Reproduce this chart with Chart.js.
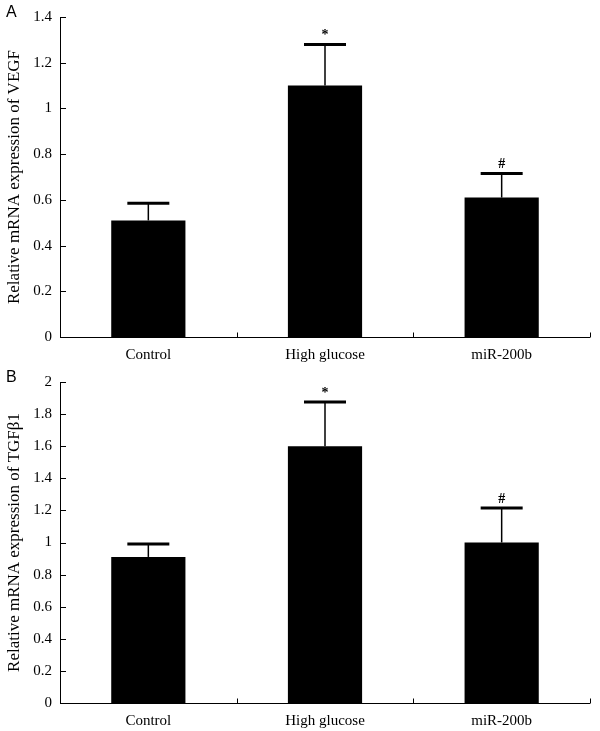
<!DOCTYPE html>
<html lang="en">
<head>
    <meta charset="UTF-8">
    <title>Relative mRNA expression</title>
    <script src="https://cdn.jsdelivr.net/npm/chart.js"></script>
    <style>
        body {
            margin: 0;
            background: #fff;
        }
        canvas {
            display: block;
        }
    </style>
</head>
<body>
    <canvas id="chartA" width="600" height="365"></canvas>
    <canvas id="chartB" width="600" height="366"></canvas>

    <script>
        // Datos
        const groups = ['Control', 'High glucose', 'miR-200b'];

        const vegfMean = [0.51, 1.10, 0.61];
        const vegfErr = [0.075, 0.18, 0.105];   // solo barra superior
        const vegfMarks = ['', '*', '#'];

        const tgfMean = [0.91, 1.60, 1.00];
        const tgfErr = [0.08, 0.275, 0.215];
        const tgfMarks = ['', '*', '#'];

        const serif = "'Liberation Serif', 'DejaVu Serif', serif";

        // Ejes, marcas, barras de error y etiquetas dibujadas a mano
        const extras = {
            id: 'extras',
            afterDatasetsDraw(chart, args, opts) {
                const ctx = chart.ctx;
                const x = chart.scales.x;
                const y = chart.scales.y;
                const area = chart.chartArea;
                ctx.save();
                ctx.strokeStyle = '#000';
                ctx.fillStyle = '#000';

                // eje y con marcas hacia dentro
                ctx.lineWidth = 1;
                ctx.beginPath();
                ctx.moveTo(area.left + 0.5, y.getPixelForValue(y.max));
                ctx.lineTo(area.left + 0.5, area.bottom);
                y.ticks.forEach(t => {
                    const py = Math.round(y.getPixelForValue(t.value)) + 0.5;
                    ctx.moveTo(area.left, py);
                    ctx.lineTo(area.left + 6, py);
                });
                // eje x con marcas entre categorías
                const by = Math.round(area.bottom) + 0.5;
                ctx.moveTo(area.left, by);
                ctx.lineTo(area.right, by);
                const step = x.getPixelForValue(1) - x.getPixelForValue(0);
                const n = chart.data.labels.length;
                for (let i = 0; i < n; i++) {
                    const px = Math.round(x.getPixelForValue(i) + step / 2) + 0.5;
                    ctx.moveTo(px, by);
                    ctx.lineTo(px, by - 5);
                }
                ctx.stroke();

                // barras de error
                const meta = chart.getDatasetMeta(0);
                opts.err.forEach((e, i) => {
                    const bar = meta.data[i];
                    const top = opts.mean[i] + e;
                    const ty = y.getPixelForValue(top);
                    ctx.lineWidth = 1.5;
                    ctx.beginPath();
                    ctx.moveTo(bar.x, bar.y);
                    ctx.lineTo(bar.x, ty);
                    ctx.stroke();
                    ctx.lineWidth = 3;
                    ctx.beginPath();
                    ctx.moveTo(bar.x - 21, ty);
                    ctx.lineTo(bar.x + 21, ty);
                    ctx.stroke();
                    if (opts.marks[i]) {
                        ctx.font = 'bold 14px ' + serif;
                        ctx.textAlign = 'center';
                        ctx.textBaseline = 'bottom';
                        ctx.fillText(opts.marks[i], bar.x, ty - 2);
                    }
                });

                // letra del panel
                ctx.font = "16px 'Liberation Sans', Arial, sans-serif";
                ctx.textAlign = 'left';
                ctx.textBaseline = 'middle';
                ctx.fillText(opts.letter, 6, 13);
                ctx.restore();
            }
        };

        function makeChart(id, mean, err, marks, max, title, letter) {
            const ctx = document.getElementById(id).getContext('2d');
            return new Chart(ctx, {
                type: 'bar',
                data: {
                    labels: groups,
                    datasets: [{
                        data: mean,
                        backgroundColor: '#000',
                        borderColor: '#000',
                        borderWidth: 0,
                        barPercentage: 0.42,
                        categoryPercentage: 1
                    }]
                },
                options: {
                    responsive: false,
                    animation: false,
                    devicePixelRatio: 1,
                    layout: {
                        padding: { top: 15, right: 10, left: 0, bottom: 0 }
                    },
                    plugins: {
                        legend: { display: false },
                        tooltip: { enabled: false },
                        extras: { err, mean, marks, letter }
                    },
                    scales: {
                        x: {
                            grid: { display: false, drawTicks: false },
                            border: { display: false },
                            ticks: {
                                color: '#000',
                                padding: 9,
                                font: { family: serif, size: 15 }
                            },
                            afterFit: s => { s.height = 28; }
                        },
                        y: {
                            min: 0,
                            max: max,
                            grid: { display: false, drawTicks: false },
                            border: { display: false },
                            ticks: {
                                stepSize: 0.2,
                                color: '#000',
                                padding: 8,
                                font: { family: serif, size: 15 }
                            ,
                                callback: v => Number(v.toFixed(1)).toString()
                            },
                            title: {
                                display: true,
                                text: title,
                                color: '#000',
                                font: { family: serif, size: 17 },
                                padding: { top: 4, bottom: 0 }
                            },
                            afterFit: s => { s.width = 60; }
                        }
                    }
                },
                plugins: [extras]
            });
        }

        makeChart('chartA', vegfMean, vegfErr, vegfMarks, 1.4, 'Relative mRNA expression of VEGF', 'A');
        makeChart('chartB', tgfMean, tgfErr, tgfMarks, 2, 'Relative mRNA expression of TGFβ1', 'B');
    </script>
</body>
</html>
